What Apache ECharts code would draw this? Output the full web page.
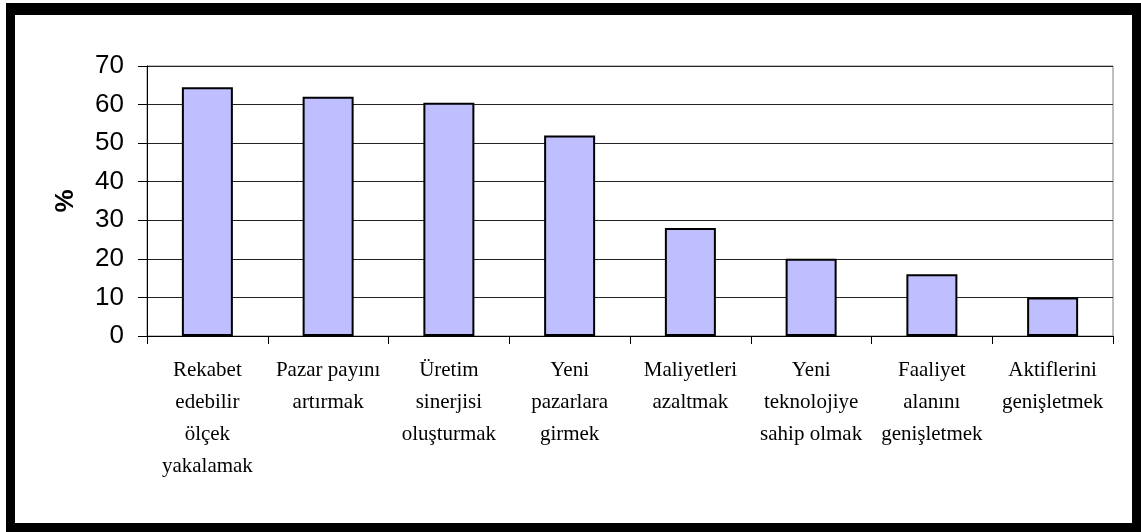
<!DOCTYPE html>
<html>
<head>
<meta charset="utf-8">
<script src="https://cdn.jsdelivr.net/npm/echarts@6/dist/echarts.min.js"></script>
<style>
  html, body { margin: 0; padding: 0; background: #fff; }
  #chart { width: 1141px; height: 532px; }
</style>
</head>
<body>
<div id="chart"></div>
<script>
const categories = [
  'Rekabet\nedebilir\nölçek\nyakalamak',
  'Pazar payını\nartırmak',
  'Üretim\nsinerjisi\noluşturmak',
  'Yeni\npazarlara\ngirmek',
  'Maliyetleri\nazaltmak',
  'Yeni\nteknolojiye\nsahip olmak',
  'Faaliyet\nalanını\ngenişletmek',
  'Aktiflerini\ngenişletmek'
]
const values = [64.5, 62, 60.5, 52, 28, 20, 16, 10]
const yTicks = { min: 0, max: 70, interval: 10 }

const chart = echarts.init(document.getElementById('chart'), null, { renderer: 'canvas' })

const option = {
  backgroundColor: '#fff',
  animation: false,
  graphic: [
    // black picture frame
    { type: 'rect', shape: { x: 6, y: 3, width: 1135, height: 12 }, style: { fill: '#000' } },
    { type: 'rect', shape: { x: 6, y: 523, width: 1135, height: 9 }, style: { fill: '#000' } },
    { type: 'rect', shape: { x: 6, y: 3, width: 9, height: 529 }, style: { fill: '#000' } },
    { type: 'rect', shape: { x: 1132, y: 3, width: 9, height: 529 }, style: { fill: '#000' } }
  ],
  grid: {
    left: 147,
    right: 28,
    top: 66,
    bottom: 196,
    show: true,
    borderColor: '#808080',
    borderWidth: 1,
    backgroundColor: 'transparent'
  },
  xAxis: {
    type: 'category',
    data: categories,
    axisLine: { lineStyle: { color: '#000', width: 1 } },
    axisTick: { show: true, length: 8, lineStyle: { color: '#000' } },
    axisLabel: {
      interval: 0,
      margin: 18,
      color: '#000',
      fontFamily: '"Liberation Serif", "Times New Roman", serif',
      fontSize: 21,
      lineHeight: 32,
      align: 'center'
    }
  },
  yAxis: {
    type: 'value',
    min: yTicks.min,
    max: yTicks.max,
    interval: yTicks.interval,
    name: '%',
    nameLocation: 'middle',
    nameGap: 68,
    nameRotate: 90,
    nameTextStyle: {
      color: '#000',
      fontFamily: '"Liberation Sans", Arial, sans-serif',
      fontSize: 26,
      fontWeight: 'bold'
    },
    axisLine: { show: true, lineStyle: { color: '#000', width: 1 } },
    axisTick: { show: true, length: 9, lineStyle: { color: '#000' } },
    axisLabel: {
      margin: 23,
      color: '#000',
      fontFamily: '"Liberation Sans", Arial, sans-serif',
      fontSize: 26
    },
    splitLine: { lineStyle: { color: '#222', width: 1 } }
  },
  series: [
    {
      type: 'bar',
      data: values,
      barWidth: 51,
      itemStyle: {
        color: '#BFBFFF',
        borderColor: '#000',
        borderWidth: 2
      }
    }
  ]
}

chart.setOption(option)
</script>
</body>
</html>
